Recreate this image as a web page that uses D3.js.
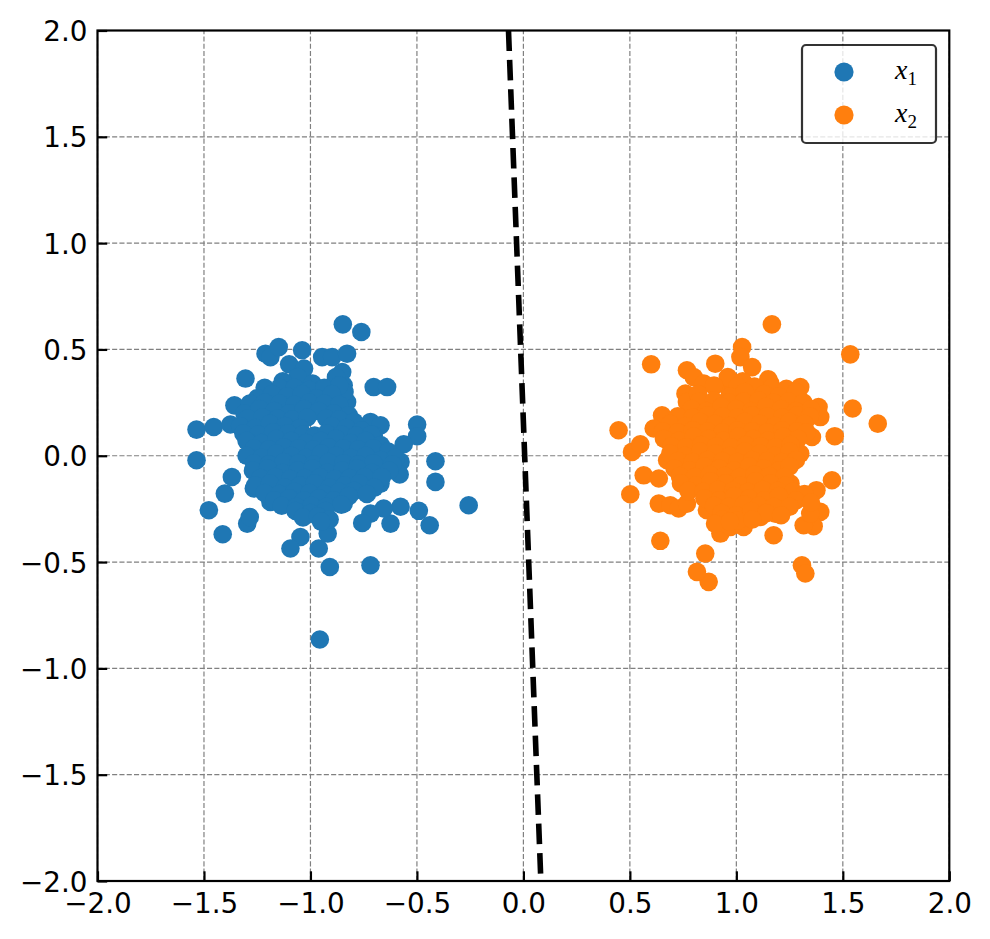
<!DOCTYPE html>
<html>
<head>
<meta charset="utf-8">
<script src="https://cdn.jsdelivr.net/npm/d3@7"></script>
<style>
  body { margin: 0; background: #fff; }
  text { font-family: "DejaVu Sans", sans-serif; }
</style>
</head>
<body>
<div id="chart"></div>
<script>
const width = 990;
const height = 939;

// tick positions on both axes
const tickValues = [-2, -1.5, -1, -0.5, 0, 0.5, 1, 1.5, 2];

// series labels
const seriesNames = ['x1', 'x2'];

// class 1 (blue) points, [x, y]
const x1Points = [
  [-0.848, 0.618], [-0.761, 0.582], [-0.956, -0.864], [-0.257, -0.233], [-1.535, 0.123],
  [-1.535, -0.021], [-1.477, -0.256], [-1.412, -0.369], [-1.297, -0.319], [-1.285, -0.288],
  [-1.402, -0.178], [-1.369, -0.100], [-1.454, 0.135], [-1.376, 0.147], [-1.357, 0.237],
  [-1.305, 0.363], [-1.211, 0.480], [-1.188, 0.464], [-1.149, 0.511], [-1.039, 0.496],
  [-0.945, 0.464], [-0.898, 0.464], [-0.828, 0.480], [-0.851, 0.394], [-0.883, 0.347],
  [-0.844, 0.331], [-0.703, 0.323], [-0.640, 0.323], [-0.828, 0.253], [-0.718, 0.159],
  [-0.671, 0.143], [-0.703, 0.096], [-0.499, 0.147], [-0.499, 0.092], [-0.562, 0.054],
  [-0.413, -0.026], [-0.413, -0.123], [-0.640, 0.010], [-0.577, -0.029], [-0.581, -0.088],
  [-0.671, -0.131], [-0.491, -0.259], [-0.440, -0.327], [-0.577, -0.240], [-0.624, -0.319],
  [-0.656, -0.248], [-0.718, -0.272], [-0.757, -0.316], [-0.718, -0.515], [-0.909, -0.523],
  [-0.961, -0.436], [-0.919, -0.366], [-1.047, -0.382], [-1.094, -0.436], [-1.188, -0.217],
  [-1.266, -0.154], [-0.844, -0.225],
  [-1.10, 0.43], [-1.03, 0.41], [-1.06, 0.37],
  [-1.13, 0.35], [-0.99, 0.34], [-0.88, 0.37], [-0.84, 0.30],
  [-1.215, 0.32], [-1.145, 0.32], [-1.075, 0.32], [-1.005, 0.31], [-0.935, 0.32], [-0.865, 0.33],
  [-1.25, 0.27], [-1.18, 0.29], [-1.11, 0.28], [-1.04, 0.29], [-0.97, 0.27], [-0.90, 0.29],
  [-1.285, 0.245], [-1.215, 0.25], [-1.145, 0.245], [-1.075, 0.24], [-1.005, 0.25], [-0.935, 0.245],
  [-0.865, 0.24],
  [-1.31, 0.20], [-1.24, 0.22], [-1.17, 0.21], [-1.10, 0.20], [-1.03, 0.22], [-0.96, 0.21],
  [-0.89, 0.20], [-0.82, 0.19],
  [-1.295, 0.175], [-1.225, 0.18], [-1.155, 0.175], [-1.085, 0.17], [-1.015, 0.18], [-0.925, 0.175],
  [-0.865, 0.17], [-0.795, 0.16],
  [-1.33, 0.14], [-1.26, 0.13], [-1.19, 0.15], [-1.12, 0.14], [-1.05, 0.13], [-0.90, 0.14],
  [-0.83, 0.13], [-0.76, 0.12],
  [-1.315, 0.105], [-1.245, 0.10], [-1.175, 0.11], [-1.105, 0.105], [-1.035, 0.10], [-0.98, 0.095],
  [-0.925, 0.105], [-0.855, 0.10], [-0.785, 0.095], [-0.715, 0.10],
  [-1.30, 0.07], [-1.23, 0.06], [-1.16, 0.08], [-1.09, 0.07], [-1.02, 0.06], [-0.95, 0.07],
  [-0.88, 0.08], [-0.81, 0.06], [-0.74, 0.07], [-0.67, 0.05],
  [-1.265, 0.035], [-1.195, 0.03], [-1.125, 0.04], [-1.055, 0.035], [-0.985, 0.03], [-0.915, 0.04],
  [-0.845, 0.035], [-0.775, 0.03], [-0.705, 0.035], [-0.635, 0.02],
  [-1.30, 0.00], [-1.23, -0.01], [-1.16, 0.01], [-1.09, 0.00], [-1.02, -0.01], [-0.95, 0.01],
  [-0.88, 0.00], [-0.81, -0.01], [-0.74, 0.00], [-0.67, -0.02], [-0.60, -0.01],
  [-1.265, -0.035], [-1.195, -0.04], [-1.125, -0.03], [-1.055, -0.035], [-0.985, -0.04], [-0.915, -0.03],
  [-0.845, -0.035], [-0.775, -0.04], [-0.705, -0.035], [-0.615, -0.04],
  [-1.27, -0.07], [-1.20, -0.06], [-1.13, -0.08], [-1.06, -0.07], [-0.99, -0.06], [-0.92, -0.08],
  [-0.85, -0.07], [-0.78, -0.06], [-0.71, -0.08], [-0.63, -0.07],
  [-1.235, -0.105], [-1.165, -0.10], [-1.095, -0.11], [-1.025, -0.105], [-0.955, -0.10], [-0.885, -0.11],
  [-0.815, -0.105], [-0.745, -0.10], [-0.665, -0.10],
  [-1.26, -0.14], [-1.19, -0.13], [-1.12, -0.15], [-1.05, -0.14], [-0.98, -0.13], [-0.91, -0.15],
  [-0.84, -0.14], [-0.77, -0.13], [-0.70, -0.15],
  [-1.215, -0.175], [-1.145, -0.18], [-1.075, -0.17], [-1.005, -0.175], [-0.935, -0.18], [-0.865, -0.17],
  [-0.795, -0.165], [-0.735, -0.18],
  [-1.17, -0.21], [-1.10, -0.20], [-1.03, -0.21], [-0.96, -0.20], [-0.89, -0.21], [-0.82, -0.19],
  [-1.135, -0.235], [-1.065, -0.24], [-0.995, -0.235], [-0.925, -0.24], [-0.855, -0.23],
  [-1.07, -0.26], [-1.00, -0.27], [-0.93, -0.26],
  [-1.035, -0.29], [-0.965, -0.285], [-0.91, -0.30],
  [-0.95, -0.31]
];

// class 2 (orange) points, [x, y]
const x2Points = [
  [1.167, 0.618], [1.535, 0.477], [1.546, 0.222], [1.664, 0.151], [1.462, 0.092],
  [1.449, -0.115], [1.376, -0.162], [1.394, -0.264], [1.363, -0.331], [1.316, -0.327],
  [1.308, -0.515], [1.324, -0.554], [1.175, -0.374], [0.870, -0.593], [0.815, -0.546],
  [0.854, -0.460], [0.643, -0.400], [0.502, -0.181], [0.447, 0.120], [0.510, 0.018],
  [0.549, 0.054], [0.565, -0.092], [0.636, -0.107], [0.636, -0.225], [0.690, -0.233],
  [0.729, -0.248], [0.768, -0.225], [0.600, 0.430], [0.768, 0.402], [0.800, 0.370],
  [0.901, 0.433], [1.027, 0.511], [1.019, 0.464], [1.074, 0.417], [0.847, 0.339],
  [0.761, 0.292], [0.768, 0.253], [0.651, 0.190], [0.612, 0.128], [1.160, 0.339],
  [1.300, 0.323], [1.386, 0.229], [1.394, 0.182], [1.300, 0.135], [1.300, 0.010],
  [1.254, -0.131], [0.964, 0.316], [0.972, 0.355], [1.050, 0.229], [1.191, 0.276],
  [1.238, 0.261], [1.355, 0.088], [0.675, 0.073], [0.675, -0.021], [0.925, -0.366],
  [0.972, -0.335], [1.034, -0.335], [0.862, -0.256], [1.113, -0.288], [1.183, -0.272],
  [1.347, -0.272],
  [0.96, 0.37], [1.03, 0.35], [1.15, 0.36],
  [0.895, 0.33], [1.005, 0.325], [1.085, 0.325], [1.165, 0.32], [1.235, 0.315],
  [0.82, 0.29], [0.97, 0.28], [1.04, 0.30], [1.13, 0.29], [1.20, 0.28], [1.28, 0.30],
  [0.825, 0.255], [0.895, 0.26], [0.965, 0.25], [1.035, 0.255], [1.105, 0.26], [1.175, 0.25],
  [1.245, 0.255], [1.315, 0.25],
  [0.79, 0.22], [0.86, 0.21], [0.93, 0.23], [1.00, 0.22], [1.07, 0.21], [1.14, 0.23],
  [1.21, 0.22], [1.28, 0.21], [1.35, 0.22],
  [0.725, 0.185], [0.795, 0.18], [0.865, 0.19], [0.935, 0.185], [1.005, 0.18], [1.075, 0.19],
  [1.145, 0.185], [1.215, 0.18], [1.285, 0.19], [1.345, 0.185],
  [0.69, 0.15], [0.76, 0.14], [0.83, 0.16], [0.90, 0.15], [0.97, 0.14], [1.04, 0.16],
  [1.11, 0.15], [1.18, 0.14], [1.25, 0.16], [1.32, 0.15],
  [0.655, 0.115], [0.725, 0.11], [0.795, 0.12], [0.865, 0.115], [0.935, 0.11], [1.005, 0.12],
  [1.075, 0.115], [1.145, 0.11], [1.215, 0.12], [1.285, 0.115], [1.33, 0.11],
  [0.66, 0.08], [0.73, 0.07], [0.80, 0.09], [0.87, 0.08], [0.94, 0.07], [1.01, 0.09],
  [1.08, 0.08], [1.15, 0.07], [1.22, 0.09], [1.29, 0.08],
  [0.695, 0.045], [0.765, 0.04], [0.835, 0.05], [0.905, 0.045], [0.975, 0.04], [1.045, 0.05],
  [1.115, 0.045], [1.185, 0.04], [1.255, 0.05],
  [0.69, 0.01], [0.76, 0.00], [0.83, 0.02], [0.90, 0.01], [0.97, 0.00], [1.04, 0.02],
  [1.11, 0.01], [1.18, 0.00], [1.25, 0.02],
  [0.725, -0.025], [0.795, -0.03], [0.865, -0.02], [0.935, -0.025], [1.005, -0.03], [1.075, -0.02],
  [1.145, -0.025], [1.215, -0.03], [1.28, -0.02],
  [0.71, -0.06], [0.78, -0.07], [0.85, -0.05], [0.92, -0.06], [0.99, -0.07], [1.06, -0.05],
  [1.13, -0.06], [1.20, -0.07], [1.25, -0.05],
  [0.735, -0.095], [0.805, -0.10], [0.875, -0.09], [0.945, -0.095], [1.015, -0.10], [1.085, -0.09],
  [1.155, -0.095], [1.225, -0.10],
  [0.74, -0.13], [0.81, -0.14], [0.88, -0.12], [0.95, -0.13], [1.02, -0.14], [1.09, -0.12],
  [1.16, -0.13], [1.23, -0.14],
  [0.775, -0.165], [0.845, -0.17], [0.915, -0.16], [0.985, -0.165], [1.055, -0.17], [1.125, -0.16],
  [1.195, -0.165], [1.265, -0.17], [1.32, -0.18],
  [0.85, -0.20], [0.92, -0.21], [0.99, -0.19], [1.06, -0.20], [1.13, -0.21], [1.20, -0.19],
  [1.28, -0.21], [1.35, -0.22],
  [0.895, -0.235], [0.965, -0.24], [1.035, -0.23], [1.105, -0.235], [1.175, -0.24], [1.25, -0.24],
  [0.93, -0.27], [1.00, -0.28], [1.07, -0.26], [1.14, -0.27], [1.21, -0.28],
  [0.935, -0.30], [1.005, -0.305], [1.075, -0.30],
  [0.90, -0.32], [0.97, -0.31]
];

// decision boundary end points
const boundaryX = [-0.07, 0.082];
const boundaryY = [2, -2];

const colors = ['#1f77b4', '#ff7f0e'];

const margin = { top: 30.5, right: 40.7, bottom: 58, left: 97.5 };

const svg = d3.select('#chart')
  .append('svg')
  .attr('width', width)
  .attr('height', height);

const x = d3.scaleLinear()
  .domain([-2, 2])
  .range([margin.left, width - margin.right]);

const y = d3.scaleLinear()
  .domain([-2, 2])
  .range([height - margin.bottom, margin.top]);

const fmt = d3.format('.1f');

svg.append('defs').append('clipPath')
  .attr('id', 'plotClip')
  .append('rect')
  .attr('x', x(-2)).attr('y', y(2))
  .attr('width', x(2) - x(-2)).attr('height', y(-2) - y(2));

// grid
const grid = svg.append('g');
grid.selectAll('.vgrid')
  .data(tickValues)
  .enter()
  .append('line')
    .attr('x1', d => x(d)).attr('x2', d => x(d))
    .attr('y1', y(-2)).attr('y2', y(2))
    .attr('stroke', '#808080')
    .attr('stroke-width', 1.2)
    .attr('stroke-dasharray', '5.1,2.2');
grid.selectAll('.hgrid')
  .data(tickValues)
  .enter()
  .append('line')
    .attr('y1', d => y(d)).attr('y2', d => y(d))
    .attr('x1', x(-2)).attr('x2', x(2))
    .attr('stroke', '#808080')
    .attr('stroke-width', 1.2)
    .attr('stroke-dasharray', '5.1,2.2');

// scatter
const plot = svg.append('g').attr('clip-path', 'url(#plotClip)');
[x1Points, x2Points].forEach((pts, i) => {
  plot.append('g')
    .selectAll('circle')
    .data(pts)
    .enter()
    .append('circle')
      .attr('cx', d => x(d[0]))
      .attr('cy', d => y(d[1]))
      .attr('r', 9.3)
      .attr('fill', colors[i]);
});

// boundary line
plot.append('path')
  .datum(d3.zip(boundaryX, boundaryY))
  .attr('d', d3.line().x(d => x(d[0])).y(d => y(d[1])))
  .attr('fill', 'none')
  .attr('stroke', '#000')
  .attr('stroke-width', 5.6)
  .attr('stroke-dasharray', '20.5,8.9');

// axes: ticks inward on bottom and left
const xAxis = d3.axisBottom(x)
  .tickValues(tickValues)
  .tickSize(-9.7)
  .tickFormat(fmt);
const yAxis = d3.axisLeft(y)
  .tickValues(tickValues)
  .tickSize(-9.7)
  .tickFormat(fmt);

const gx = svg.append('g')
  .attr('transform', `translate(0,${y(-2)})`)
  .call(xAxis);
const gy = svg.append('g')
  .attr('transform', `translate(${x(-2)},0)`)
  .call(yAxis);

[gx, gy].forEach(g => {
  g.select('.domain').remove();
  g.selectAll('.tick line').attr('stroke', '#000').attr('stroke-width', 2.2);
  g.selectAll('.tick text')
    .attr('fill', '#000')
    .style('font-family', '"DejaVu Sans", sans-serif')
    .style('font-size', '27.8px');
});
gx.selectAll('.tick text').attr('dy', null).attr('y', 32);
gy.selectAll('.tick text').attr('dy', '0.36em').attr('x', -10);

// frame
svg.append('rect')
  .attr('x', x(-2)).attr('y', y(2))
  .attr('width', x(2) - x(-2)).attr('height', y(-2) - y(2))
  .attr('fill', 'none')
  .attr('stroke', '#000')
  .attr('stroke-width', 2.2);

// legend
const legend = svg.append('g');
legend.append('rect')
  .attr('x', 802).attr('y', 45)
  .attr('width', 134).attr('height', 98)
  .attr('rx', 4)
  .attr('fill', 'rgba(255,255,255,0.8)')
  .attr('stroke', 'rgba(0,0,0,0.8)')
  .attr('stroke-width', 2.2);

seriesNames.forEach((name, i) => {
  const cy = 72 + i * 43;
  legend.append('circle')
    .attr('cx', 844).attr('cy', cy)
    .attr('r', 9.6)
    .attr('fill', colors[i]);
  const t = legend.append('text')
    .attr('x', 895).attr('y', cy + 7)
    .style('font-family', '"Liberation Serif", "DejaVu Serif", serif')
    .style('font-size', '28px');
  t.append('tspan').style('font-style', 'italic').text(name[0]);
  t.append('tspan').attr('dy', 6).style('font-size', '19px').text(name.slice(1));
});
</script>
</body>
</html>
